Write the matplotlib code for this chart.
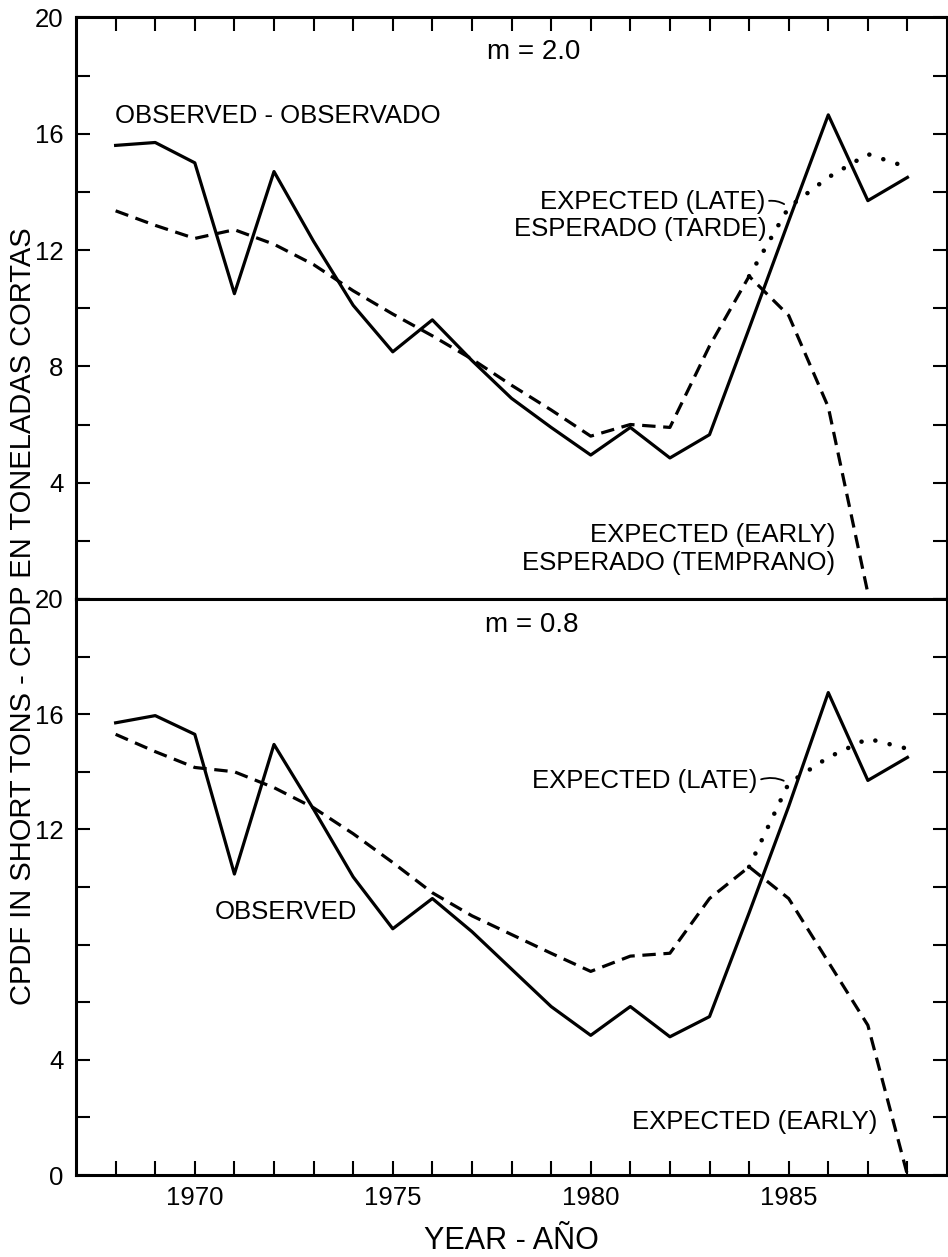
import matplotlib.pyplot as plt
import numpy as np

nan = np.nan
years = np.arange(1968, 1989)

# m = 2.0 panel
obs_top = [15.6, 15.7, 15.0, 10.5, 14.7, 12.3, 10.1, 8.5, 9.6, 8.2, 6.9,
           5.9, 4.95, 5.9, 4.85, 5.65, 9.3, 13.0, 16.65, 13.7, 14.5]
early_top = [13.35, 12.85, 12.4, 12.7, 12.2, 11.5, 10.6, 9.8, 9.05, 8.25, 7.35,
             6.5, 5.6, 6.0, 5.9, 8.7, 11.1, 9.75, 6.6, 0.2, nan]
late_top = [nan] * 16 + [11.1, 13.47, 14.5, 15.3, 14.85]

# m = 0.8 panel
obs_bot = [15.7, 15.95, 15.3, 10.45, 14.95, 12.7, 10.35, 8.55, 9.6, 8.45, 7.15,
           5.85, 4.85, 5.85, 4.8, 5.5, 9.1, 12.8, 16.75, 13.7, 14.5]
early_bot = [15.3, 14.7, 14.15, 14.0, 13.45, 12.75, 11.85, 10.85, 9.8, 9.0, 8.35,
             7.7, 7.07, 7.6, 7.7, 9.6, 10.7, 9.6, 7.4, 5.2, 0.0]
late_bot = [nan] * 16 + [10.7, 13.6, 14.5, 15.15, 14.8]

top_ylabels = [4, 8, 12, 16, 20]
bot_ylabels = [0, 4, 12, 16, 20]

plt.rcParams['font.family'] = ['Liberation Sans', 'DejaVu Sans']

fig = plt.figure(figsize=(9.48, 12.57), dpi=100)
ax1 = fig.add_axes([0.0802, 0.5235, 0.9188, 0.4626])
ax2 = fig.add_axes([0.0802, 0.0652, 0.9188, 0.4583])


def draw(ax, obs, early, late):
    ax.plot(years, obs, color='black', lw=2.3)
    ax.plot(years, early, color='black', lw=2.3, dashes=(4.2, 2.4))
    ax.plot(years, late, color='black', lw=3.3, dashes=(0.01, 3.2),
            dash_capstyle='round')


def style(ax, ylabels, top):
    ax.set_xlim(1967, 1989)
    ax.set_ylim(0, 20)
    yt = np.arange(0, 21, 2)
    ax.set_yticks(yt)
    ax.set_yticklabels([str(v) if v in ylabels else '' for v in yt])
    ax.set_xticks(years)
    ax.set_xticklabels([str(y) if y % 5 == 0 else '' for y in years])
    ax.tick_params(axis='y', direction='in', length=10, width=1.5,
                   left=True, right=True, labelsize=18.5, pad=9)
    ax.tick_params(axis='x', direction='in', length=10, width=1.5,
                   top=top, bottom=not top, labeltop=False,
                   labelbottom=not top, labelsize=18.5, pad=8)
    for s in ax.spines.values():
        s.set_linewidth(2.2)


draw(ax1, obs_top, early_top, late_top)
draw(ax2, obs_bot, early_bot, late_bot)
style(ax1, top_ylabels, True)
style(ax2, bot_ylabels, False)

fs = 18.5
lead = dict(arrowstyle='-', lw=1.3, color='black', relpos=(1, 0.5),
            shrinkA=1, shrinkB=4, connectionstyle='arc3,rad=-0.25')

# top panel texts
ax1.text(1978.57, 18.82, 'm = 2.0', ha='center', va='center', fontsize=20)
ax1.text(1967.98, 16.6, 'OBSERVED - OBSERVADO', ha='left', va='center',
         fontsize=fs)
ax1.annotate('EXPECTED (LATE)', xy=(years[17], late_top[17]),
             xytext=(1984.4, 13.67), ha='right', va='center', fontsize=fs,
             arrowprops=lead)
ax1.text(1984.45, 12.72, 'ESPERADO (TARDE)', ha='right', va='center',
         fontsize=fs)
ax1.text(1986.17, 2.19, 'EXPECTED (EARLY)', ha='right', va='center',
         fontsize=fs)
ax1.text(1986.17, 1.23, 'ESPERADO (TEMPRANO)', ha='right', va='center',
         fontsize=fs)

# bottom panel texts
ax2.text(1978.52, 19.1, 'm = 0.8', ha='center', va='center', fontsize=20)
ax2.text(1970.5, 9.13, 'OBSERVED', ha='left', va='center', fontsize=fs)
ax2.annotate('EXPECTED (LATE)', xy=(years[17], late_bot[17]),
             xytext=(1984.2, 13.69), ha='right', va='center', fontsize=fs,
             arrowprops=lead)
ax2.text(1987.23, 1.85, 'EXPECTED (EARLY)', ha='right', va='center',
         fontsize=fs)

fig.text(23 / 948, 0.51, 'CPDF IN SHORT TONS - CPDP EN TONELADAS CORTAS',
         rotation=90, ha='center', va='center', fontsize=21)
fig.text(511 / 948, 1 - 1241 / 1257, 'YEAR - AÑO', ha='center', va='center',
         fontsize=22)

fig.savefig('out.png', dpi=100)
